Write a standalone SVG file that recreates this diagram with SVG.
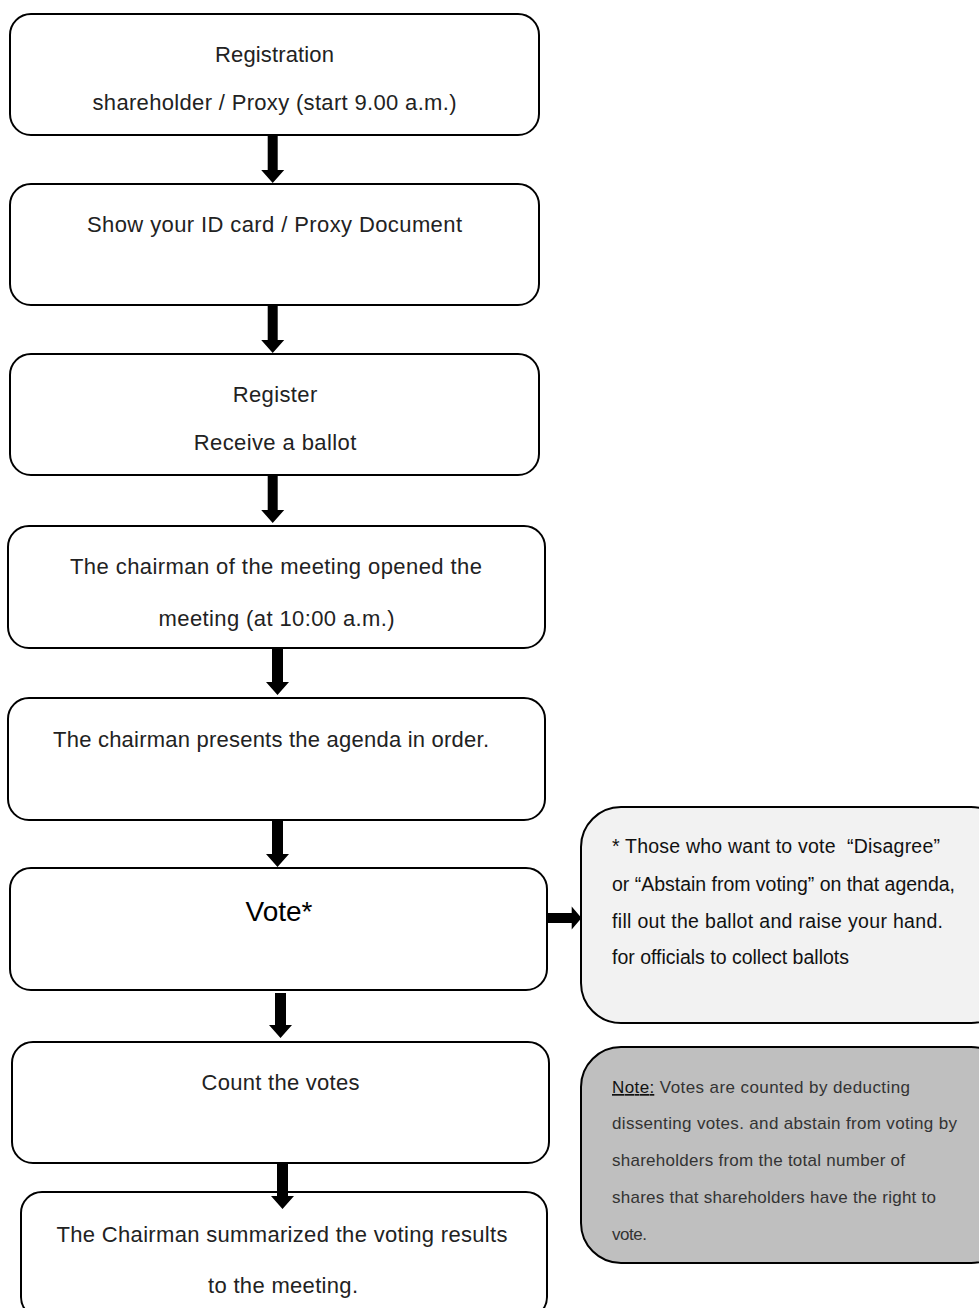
<svg xmlns="http://www.w3.org/2000/svg" width="979" height="1308" viewBox="0 0 979 1308">
<style>
.box{fill:#fff;stroke:#000;stroke-width:2}
.t{font-family:"Liberation Sans",Arial,sans-serif;font-size:22px;fill:#222;text-anchor:middle}
.c{font-family:"Liberation Sans",Arial,sans-serif;font-size:19.5px;fill:#111}
.n{font-family:"Liberation Sans",Arial,sans-serif;font-size:17px;fill:#333}
.arr{fill:#000}
</style>
<rect width="979" height="1308" fill="#fff"/>
<g id="n1"><rect class="box" x="10" y="14" width="529" height="121" rx="21"/>
<text class="t" x="274.5" y="62" textLength="119">Registration</text>
<text class="t" x="274.5" y="110" textLength="364">shareholder / Proxy (start 9.00 a.m.)</text></g>
<g id="n2"><rect class="box" x="10" y="184" width="529" height="121" rx="21"/>
<text class="t" x="274.5" y="232" textLength="375">Show your ID card / Proxy Document</text></g>
<g id="n3"><rect class="box" x="10" y="354" width="529" height="121" rx="21"/>
<text class="t" x="275" y="402" textLength="84.5">Register</text>
<text class="t" x="275" y="450" textLength="162.5">Receive a ballot</text></g>
<g id="n4"><rect class="box" x="8" y="526" width="537" height="122" rx="21"/>
<text class="t" x="276" y="574" textLength="412">The chairman of the meeting opened the</text>
<text class="t" x="276.6" y="626" textLength="236">meeting (at 10:00 a.m.)</text></g>
<g id="n5"><rect class="box" x="8" y="698" width="537" height="122" rx="21"/>
<text class="t" x="271" y="747" textLength="436">The chairman presents the agenda in order.</text></g>
<g id="n6"><rect class="box" x="10" y="868" width="537" height="122" rx="21"/>
<text class="t" x="279" y="921" style="font-size:28px;fill:#000">Vote*</text></g>
<g id="n7"><rect class="box" x="12" y="1042" width="537" height="121" rx="21"/>
<text class="t" x="280.5" y="1090" textLength="158">Count the votes</text></g>
<g id="n8"><rect class="box" x="21" y="1192" width="526" height="126" rx="21"/>
<text class="t" x="282" y="1242" textLength="451">The Chairman summarized the voting results</text>
<text class="t" x="283" y="1293" textLength="150">to the meeting.</text></g>
<g id="callout"><rect x="581" y="807" width="430" height="216" rx="40" fill="#f2f2f2" stroke="#000" stroke-width="2"/>
<text class="c" x="612" y="853" textLength="328">* Those who want to vote&#160; “Disagree”</text>
<text class="c" x="612" y="891" textLength="343">or “Abstain from voting” on that agenda,</text>
<text class="c" x="612" y="928" textLength="331">fill out the ballot and raise your hand.</text>
<text class="c" x="612" y="964" textLength="237">for officials to collect ballots</text></g>
<g id="note"><rect x="581" y="1047" width="430" height="216" rx="40" fill="#bfbfbf" stroke="#000" stroke-width="2"/>
<text class="n" x="612" y="1093" textLength="298"><tspan text-decoration="underline" fill="#111">Note:</tspan> Votes are counted by deducting</text>
<text class="n" x="612" y="1129" textLength="345">dissenting votes. and abstain from voting by</text>
<text class="n" x="612" y="1166" textLength="293">shareholders from the total number of</text>
<text class="n" x="612" y="1203" textLength="324">shares that shareholders have the right to</text>
<text class="n" x="612" y="1240" textLength="35">vote.</text></g>
<g id="connectors">
<path class="arr" d="M267.7 136H277.7V170H284.2L272.7 183L261.2 170H267.7Z"/>
<path class="arr" d="M267.7 306H277.7V340H284.2L272.7 353L261.2 340H267.7Z"/>
<path class="arr" d="M267.7 476H277.7V510H284.2L272.7 523L261.2 510H267.7Z"/>
<path class="arr" d="M272 649H283V682H289L277.5 695L266 682H272Z"/>
<path class="arr" d="M272 821H283V854H289L277.5 867L266 854H272Z"/>
<path class="arr" d="M547 913H571.7V906.5L581.5 918L571.7 929.5V923H547Z"/>
<path class="arr" d="M275 993H286V1025H292L280.5 1038L269 1025H275Z"/>
<path class="arr" d="M277 1164H288V1196H294L282.5 1209L271 1196H277Z"/>
</g>
</svg>
